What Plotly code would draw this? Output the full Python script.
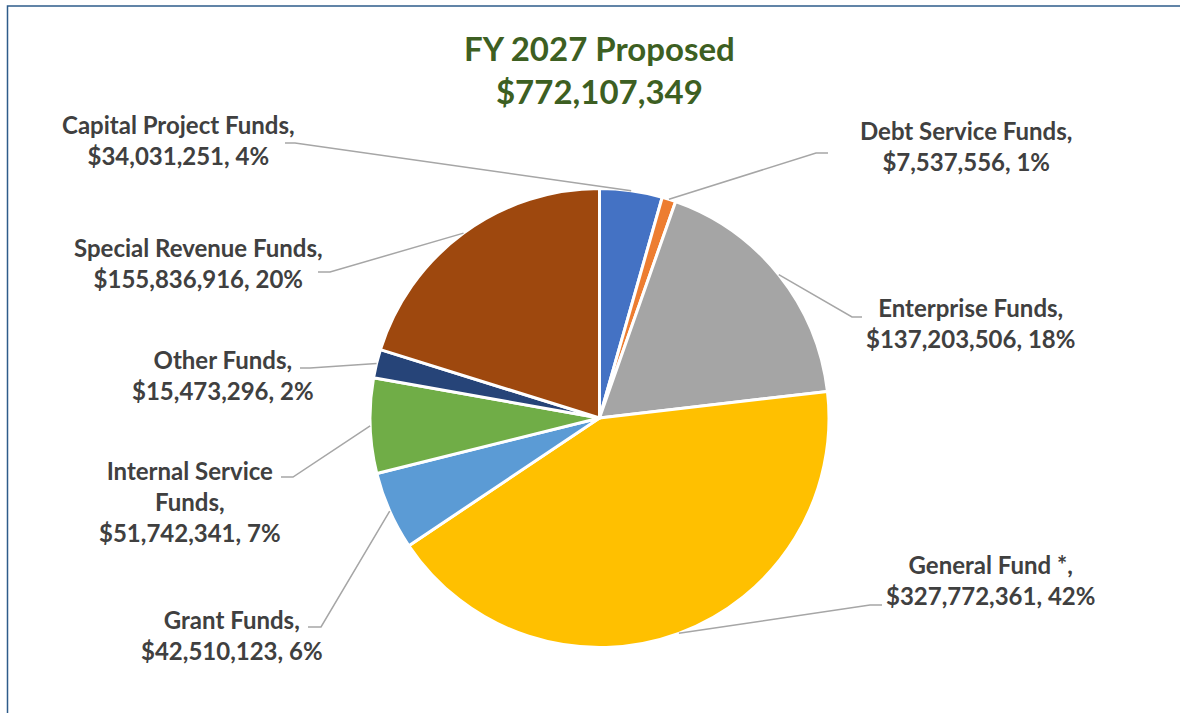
import math
import plotly.graph_objects as go

# ---- data ----
categories = ["Capital Project Funds", "Debt Service Funds", "Enterprise Funds",
              "General Fund *", "Grant Funds", "Internal Service Funds",
              "Other Funds", "Special Revenue Funds"]
values = [34031251, 7537556, 137203506, 327772361, 42510123, 51742341,
          15473296, 155836916]
colors = ["#4472C4", "#ED7D31", "#A5A5A5", "#FFC000", "#5B9BD5", "#70AD47",
          "#264478", "#9E480E"]
title_lines = ["FY 2027 Proposed", "$772,107,349"]

# ---- layout constants (pixels) ----
W, H = 1180, 713
CX, CY, R = 599.5, 418.0, 229.5

def px(x):
    return x / W

def py(y):
    return 1 - y / H

# label placement (pixels): text center, elbow point, end of horizontal segment
label_pos = {
    "Capital Project Funds": dict(cx=178, cy=140, ex=295, ey=143, hx=285),
    "Debt Service Funds": dict(cx=966, cy=146, ex=816, ey=153, hx=828),
    "Enterprise Funds": dict(cx=970, cy=323, ex=852, ey=317, hx=862),
    "General Fund *": dict(cx=990, cy=580, ex=870, ey=605, hx=882),
    "Grant Funds": dict(cx=232, cy=635, ex=321, ey=627, hx=308),
    "Internal Service Funds": dict(cx=190, cy=501, ex=293, ey=477, hx=281),
    "Other Funds": dict(cx=223, cy=375, ex=310, ey=368, hx=300),
    "Special Revenue Funds": dict(cx=198, cy=263, ex=330, ey=272, hx=318),
}
label_text = {
    "Internal Service Funds": "Internal Service<br>Funds,",
}

total = sum(values)

fig = go.Figure(go.Pie(
    labels=categories, values=values, sort=False, direction="clockwise",
    rotation=0, textinfo="none", hoverinfo="label+value+percent",
    marker=dict(colors=colors, line=dict(color="white", width=3)),
    domain=dict(x=[px(CX - R), px(CX + R)], y=[py(CY + R), py(CY - R)]),
    showlegend=False,
))

annotations = []
shapes = []
cum = 0.0
for cat, val in zip(categories, values):
    frac = val / total
    mid = (cum + frac / 2) * 2 * math.pi
    cum += frac
    sx = CX + R * math.sin(mid)
    sy = CY - R * math.cos(mid)
    p = label_pos[cat]
    pct = round(frac * 100)
    name = label_text.get(cat, cat + ",")
    txt = f"{name}<br>${val:,}, {pct}%"
    annotations.append(dict(
        x=px(p["cx"]), y=py(p["cy"]), xref="paper", yref="paper",
        text=txt, showarrow=False, align="center",
        font=dict(family="Lato", size=24, color="#404040", weight="bold"),
        xanchor="center", yanchor="middle",
    ))
    path = (f"M {px(sx)} {py(sy)} L {px(p['ex'])} {py(p['ey'])} "
            f"L {px(p['hx'])} {py(p['ey'])}")
    shapes.append(dict(type="path", path=path, xref="paper", yref="paper",
                       line=dict(color="#A6A6A6", width=1.5)))

annotations.append(dict(
    x=px(CX), y=py(70), xref="paper", yref="paper",
    text="<br>".join(title_lines), showarrow=False, align="center",
    font=dict(family="Lato", size=33, color="#3D5F22", weight="bold"),
    xanchor="center", yanchor="middle",
))

shapes.append(dict(type="rect", xref="paper", yref="paper",
                   x0=px(7.5), x1=1.05, y0=-0.05, y1=py(6),
                   line=dict(color="#2E5C8A", width=1.5)))

fig.update_layout(
    width=W, height=H, margin=dict(l=0, r=0, t=0, b=0),
    paper_bgcolor="white", plot_bgcolor="white",
    annotations=annotations, shapes=shapes,
)

fig.write_html(
    "out.html",
    config={"displayModeBar": False},
    post_script="document.body.style.margin='0';document.body.style.overflow='hidden';",
)
